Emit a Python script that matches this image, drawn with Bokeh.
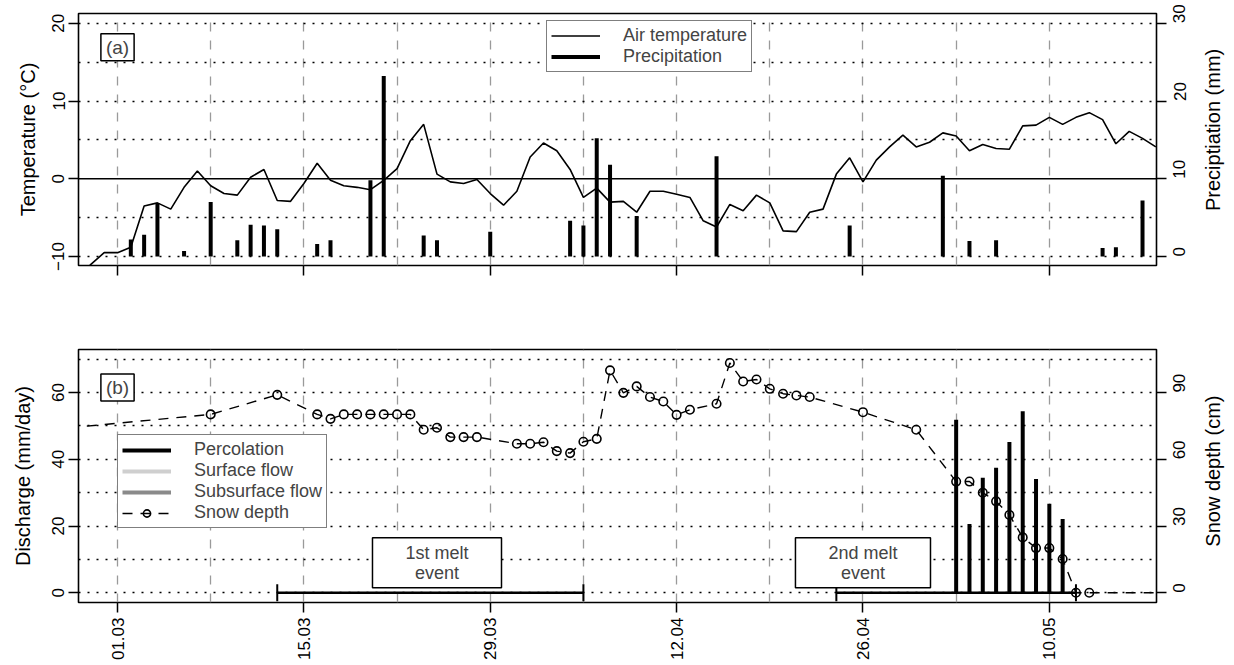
import math
from bokeh.plotting import figure
from bokeh.models import (Range1d, LinearAxis, FixedTicker, Span, Legend, LegendItem,
                          Label, ColumnDataSource)
from bokeh.layouts import column, row
from bokeh.embed import file_html
from bokeh.resources import INLINE

FONT = "Liberation Sans"

# ---------------- data (day 0 = 01.03) ----------------
temp_start_day = -3
air_temp = [-13.0, -11.0, -9.5, -9.5, -8.8, -3.5, -3.1, -3.9, -1.1, 1.0,
            -0.9, -1.9, -2.1, 0.2, 1.2, -2.8, -2.9, -0.6, 2.0, -0.2,
            -0.9, -1.1, -1.4, -0.2, 1.3, 4.9, 7.0, 0.6, -0.4, -0.6,
            -0.1, -1.9, -3.4, -1.6, 2.8, 4.6, 3.6, 1.2, -2.4, -1.2,
            -3.0, -2.9, -4.3, -1.6, -1.6, -2.0, -2.4, -5.4, -6.2, -3.3,
            -4.1, -2.1, -3.1, -6.7, -6.8, -4.3, -3.9, 0.6, 2.7, -0.4,
            2.4, 4.1, 5.6, 4.1, 4.7, 5.9, 5.5, 3.6, 4.4, 3.9,
            3.8, 6.8, 6.9, 7.9, 7.0, 7.9, 8.5, 7.6, 4.5, 6.1,
            5.2, 4.1]
temp_days = list(range(temp_start_day, temp_start_day + len(air_temp)))

precip_days = [1, 2, 3, 5, 7, 9, 10, 11, 12, 15, 16, 19, 20, 23, 24, 28, 34, 35,
               36, 37, 39, 45, 55, 62, 64, 66, 74, 75, 77]
precip_mm = [2.2, 2.8, 6.9, 0.7, 7.0, 2.1, 4.1, 4.0, 3.5, 1.6, 2.1, 9.8, 23.2,
             2.7, 2.1, 3.2, 4.6, 4.0, 15.2, 11.8, 5.2, 12.9, 4.0, 10.4, 2.0, 2.1,
             1.1, 1.2, 7.2]

snow_days = [-5, 7, 12, 15, 16, 17, 18, 19, 20, 21, 22, 23, 24, 25, 26, 27,
             30, 31, 32, 33, 34, 35, 36, 37, 38, 39, 40, 41, 42, 43, 45, 46,
             47, 48, 49, 50, 51, 52, 56, 60, 63, 64, 65, 66, 67, 68, 69, 70,
             71, 72, 73, 80]
snow_cm = [73.4, 80.2, 89.0, 80.2, 78.2, 80.2, 80.2, 80.2, 80.2, 80.2, 80.2,
           73.3, 74.2, 70.0, 70.0, 70.0, 67.0, 67.0, 67.7, 63.7, 62.8, 67.9,
           69.2, 100.0, 89.9, 92.8, 88.0, 86.0, 80.0, 82.3, 85.0, 103.3, 95.0,
           95.9, 91.7, 89.5, 88.7, 88.0, 81.2, 73.3, 50.0, 50.0, 45.0, 41.1,
           35.0, 24.9, 20.1, 20.1, 15.2, 0.0, 0.0, 0.0]

flow_days = [63, 64, 65, 66, 67, 68, 69, 70, 71]
percolation = [51.9, 20.6, 34.5, 37.5, 45.2, 54.4, 34.1, 26.7, 22.1]
surface_flow = [0, 0, 0, 0, 0, 0, 0, 0, 0]
subsurface_flow = [0, 0, 0, 0, 0, 0, 0, 0, 0]

event_start = [12, 54]
event_end = [35, 72]
event_names = ["1st melt\nevent", "2nd melt\nevent"]

tick_days = [0, 14, 28, 42, 56, 70]
tick_labels = ["01.03", "15.03", "29.03", "12.04", "26.04", "10.05"]
week_days = [0, 7, 14, 21, 28, 35, 42, 49, 56, 63, 70]

# ---------------- helpers ----------------
xr = Range1d(-2.93, 78.05)
MAIN_W = 1200
SIDE_W = 34


def style_axis(ax, ticks):
    ax.ticker = FixedTicker(ticks=ticks)
    ax.axis_line_color = None
    ax.major_tick_line_color = "black"
    ax.major_tick_line_width = 1.5
    ax.major_tick_out = 10
    ax.major_tick_in = 0
    ax.minor_tick_line_color = None
    ax.major_label_text_font = FONT
    ax.major_label_text_font_size = "17px"
    ax.major_label_text_color = "black"
    ax.major_label_standoff = 4
    ax.axis_label_text_font = FONT
    ax.axis_label_text_font_size = "20px"
    ax.axis_label_text_font_style = "normal"
    ax.axis_label_text_color = "black"
    ax.axis_label_standoff = 11


def style_right(ax):
    ax.major_label_orientation = math.pi / 2
    ax.major_label_text_baseline = "middle"
    ax.major_label_standoff = 13


def base_fig(height, yr, top, bottom):
    p = figure(width=MAIN_W, height=height, x_range=xr, y_range=yr,
               output_backend="svg", toolbar_location=None,
               min_border_left=78, min_border_right=MAIN_W - 1156,
               min_border_top=top, min_border_bottom=bottom)
    p.outline_line_color = "black"
    p.outline_line_width = 1.6
    p.xgrid.ticker = FixedTicker(ticks=week_days)
    p.xgrid.grid_line_color = "#9a9a9a"
    p.xgrid.grid_line_dash = "9 9"
    p.xgrid.grid_line_width = 1.3
    p.ygrid.grid_line_color = "black"
    p.ygrid.grid_line_dash = "2 7"
    p.ygrid.grid_line_width = 1.4
    return p


def side_title(height, center_from_top, text):
    t = figure(width=SIDE_W, height=height, x_range=Range1d(0, SIDE_W),
               y_range=Range1d(height, 0), output_backend="svg", toolbar_location=None,
               x_axis_type=None, y_axis_type=None,
               min_border_left=0, min_border_right=0, min_border_top=0, min_border_bottom=0)
    t.outline_line_color = None
    t.grid.visible = False
    t.add_layout(Label(x=12, y=center_from_top, text=text, angle=math.pi / 2,
                       text_align="center", text_baseline="middle",
                       text_font=FONT, text_font_size="20px", text_color="black"))
    return t


# ---------------- panel (a) ----------------
H1, TOP1, BOT1 = 301, 13, 36
p1 = base_fig(H1, Range1d(-11.15, 21.25), TOP1, BOT1)
p1.extra_y_ranges = {"precip": Range1d(-1.15, 31.25)}
p1.ygrid.ticker = FixedTicker(ticks=[-10, -5, 5, 10, 15, 20])
p1.add_layout(Span(location=0, dimension="width", line_color="black", line_width=1.5))

temp_r = p1.line(temp_days, air_temp, line_color="black", line_width=1.6)
psrc = ColumnDataSource(dict(x=precip_days, y0=[0] * len(precip_mm), y1=precip_mm))
prec_r = p1.segment(x0="x", y0="y0", x1="x", y1="y1", source=psrc, y_range_name="precip",
                    line_color="black", line_width=4, line_cap="butt")

style_axis(p1.xaxis[0], tick_days)
p1.xaxis.major_label_overrides = {d: "" for d in tick_days}
style_axis(p1.yaxis[0], [-10, 0, 10, 20])
p1.yaxis.axis_label = "Temperature (°C)"
p1.yaxis.major_label_orientation = "parallel"
ax_r1 = LinearAxis(y_range_name="precip")
style_axis(ax_r1, [0, 10, 20, 30])
style_right(ax_r1)
p1.add_layout(ax_r1, "right")

leg1 = Legend(items=[LegendItem(label="Air temperature", renderers=[temp_r]),
                     LegendItem(label="Precipitation", renderers=[prec_r])],
              location=(468, 193))
p1.add_layout(leg1, "center")

p1.add_layout(Label(x=0, y=16.9, text="(a)", text_align="center", text_baseline="middle",
                    text_font=FONT, text_font_size="19px",
                    border_line_color="black", border_line_width=1.5,
                    background_fill_color="white",
                    padding=dict(left=5, right=5, top=3, bottom=3)))
t1 = side_title(H1, TOP1 + (H1 - TOP1 - BOT1) / 2, "Preciptiation (mm)")

# ---------------- panel (b) ----------------
H2, TOP2, BOT2 = 363, 48, 62
p2 = base_fig(H2, Range1d(-2.91, 72.92), TOP2, BOT2)
p2.extra_y_ranges = {"snow": Range1d(-4.37, 109.38)}
p2.ygrid.ticker = FixedTicker(ticks=[0, 10, 20, 30, 40, 50, 60, 70])

fsrc = ColumnDataSource(dict(x=flow_days, zero=[0] * len(flow_days), perc=percolation,
                             surf=surface_flow, sub=subsurface_flow))
surf_r = p2.segment(x0="x", y0="zero", x1="x", y1="surf", source=fsrc,
                    line_color="#cfcfcf", line_width=4, line_cap="butt")
sub_r = p2.segment(x0="x", y0="zero", x1="x", y1="sub", source=fsrc,
                   line_color="#8a8a8a", line_width=4, line_cap="butt")
perc_r = p2.segment(x0="x", y0="zero", x1="x", y1="perc", source=fsrc,
                    line_color="black", line_width=4, line_cap="butt")

esrc = ColumnDataSource(dict(x0=event_start, x1=event_end, y=[0] * len(event_start)))
p2.segment(x0="x0", y0="y", x1="x1", y1="y", source=esrc, line_color="black", line_width=2.5)
p2.scatter(x=event_start + event_end, y=[0] * (len(event_start) + len(event_end)),
           marker="dash", angle=math.pi / 2, size=17, line_color="black", line_width=2)

snow_line = p2.line(snow_days, snow_cm, y_range_name="snow", line_color="black",
                    line_width=1.4, line_dash="10 8")
snow_pts = p2.scatter(snow_days, snow_cm, y_range_name="snow", marker="circle", size=8.5,
                      fill_color=None, line_color="black", line_width=1.6)

style_axis(p2.xaxis[0], tick_days)
p2.xaxis.major_label_overrides = {d: t for d, t in zip(tick_days, tick_labels)}
p2.xaxis.major_label_orientation = math.pi / 2
p2.xaxis.major_label_standoff = 5
style_axis(p2.yaxis[0], [0, 20, 40, 60])
p2.yaxis.axis_label = "Discharge (mm/day)"
p2.yaxis.axis_label_standoff = 16
p2.yaxis.major_label_orientation = "parallel"
ax_r2 = LinearAxis(y_range_name="snow")
style_axis(ax_r2, [0, 30, 60, 90])
style_right(ax_r2)
p2.add_layout(ax_r2, "right")

leg2 = Legend(items=[LegendItem(label="Percolation", renderers=[perc_r]),
                     LegendItem(label="Surface flow", renderers=[surf_r]),
                     LegendItem(label="Subsurface flow", renderers=[sub_r]),
                     LegendItem(label="Snow depth", renderers=[snow_line, snow_pts])],
              location=(39, 74))
p2.add_layout(leg2, "center")

for lg in (leg1, leg2):
    lg.border_line_color = "black"
    lg.border_line_width = 1.3
    lg.background_fill_color = "white"
    lg.background_fill_alpha = 1.0
    lg.padding = 4
    lg.margin = 0
    lg.spacing = 0
    lg.glyph_width = 49
    lg.label_standoff = 23
    lg.label_text_font = FONT
    lg.label_text_font_size = "18px"
    lg.label_text_baseline = "middle"
leg1.glyph_height = 21
leg1.label_height = 21
leg2.glyph_height = 18
leg2.label_height = 18

p2.add_layout(Label(x=0, y=61.5, text="(b)", text_align="center", text_baseline="middle",
                    text_font=FONT, text_font_size="19px",
                    border_line_color="black", border_line_width=1.5,
                    background_fill_color="white",
                    padding=dict(left=5, right=5, top=3, bottom=3)))
for lx, name in zip([24, 56], event_names):
    p2.add_layout(Label(x=lx, y=9, text=name, text_align="center", text_baseline="middle",
                        text_font=FONT, text_font_size="18px", text_line_height=1.0,
                        border_line_color="black", border_line_width=1.5,
                        background_fill_color="white",
                        padding=dict(left=33, right=33, top=5, bottom=5)))
t2 = side_title(H2, TOP2 + (H2 - TOP2 - BOT2) / 2, "Snow depth (cm)")

layout = column(row(p1, t1), row(p2, t2))
open("out.html", "w").write(file_html(layout, INLINE))
